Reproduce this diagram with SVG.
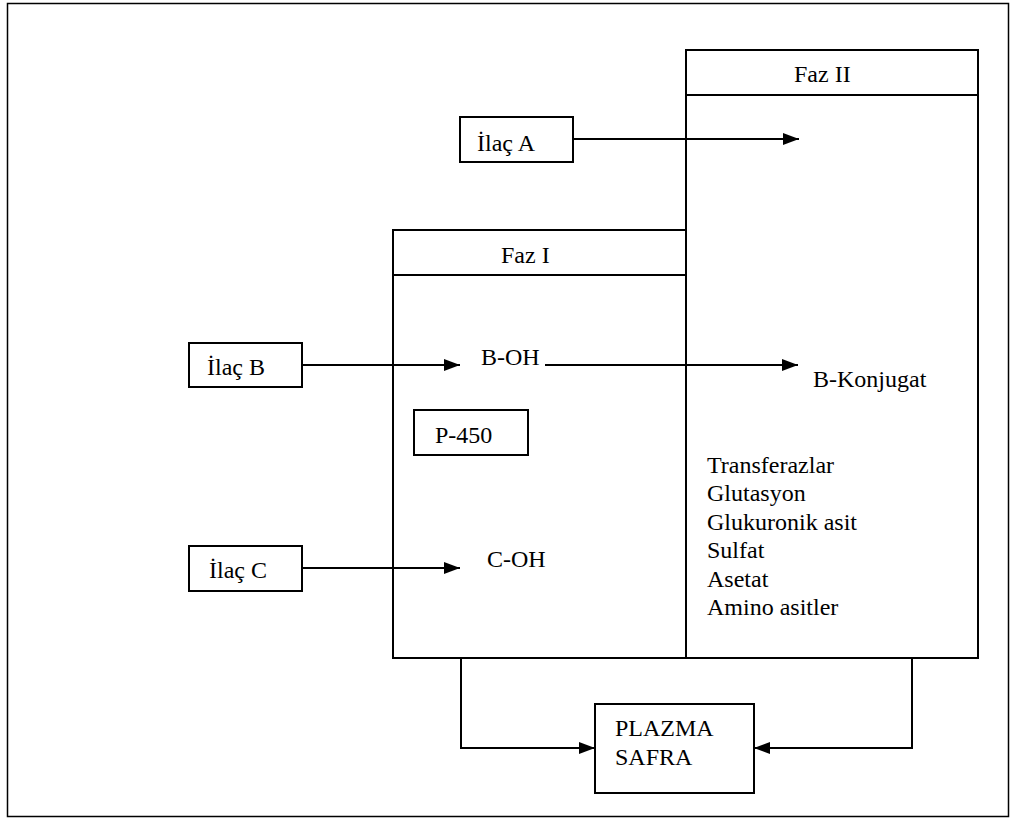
<svg xmlns="http://www.w3.org/2000/svg" width="1017" height="818" viewBox="0 0 1017 818">
<style>
.b{fill:none;stroke:#000;stroke-width:2}
.t{font-family:'Liberation Serif','DejaVu Serif',serif;font-size:24px;fill:#000}
.c{fill:none;stroke:#000;stroke-width:2}
</style>
<defs>
<marker id="ah" viewBox="0 0 16 12" refX="16" refY="6" markerWidth="16" markerHeight="12" markerUnits="userSpaceOnUse" orient="auto">
<path d="M0,0 L16,6 L0,12 Z" fill="#000"/>
</marker>
</defs>
<rect x="0" y="0" width="1017" height="818" fill="#fff"/>
<rect x="7.5" y="3.5" width="1001" height="813" fill="none" stroke="#000" stroke-width="1.5"/>
<g id="faz2">
<rect class="b" x="686" y="50" width="292" height="608"/>
<line class="b" x1="686" y1="95" x2="978" y2="95"/>
<text class="t" x="794" y="82">Faz II</text>
<text class="t" x="813" y="387">B-Konjugat</text>
<text class="t" x="707" y="473">Transferazlar</text>
<text class="t" x="707" y="501">Glutasyon</text>
<text class="t" x="707" y="530">Glukuronik asit</text>
<text class="t" x="707" y="558">Sulfat</text>
<text class="t" x="707" y="587">Asetat</text>
<text class="t" x="707" y="615">Amino asitler</text>
</g>
<g id="faz1">
<rect class="b" x="393" y="230" width="293" height="428"/>
<line class="b" x1="393" y1="275" x2="686" y2="275"/>
<text class="t" x="501" y="263">Faz I</text>
<text class="t" x="481" y="365">B-OH</text>
<text class="t" x="487" y="567">C-OH</text>
</g>
<g id="p450">
<rect class="b" x="414" y="410" width="114" height="45"/>
<text class="t" x="435" y="443">P-450</text>
</g>
<g id="ilacA">
<rect class="b" x="460" y="117" width="113" height="45"/>
<text class="t" x="477" y="151">İlaç A</text>
</g>
<g id="ilacB">
<rect class="b" x="189" y="343" width="113" height="44"/>
<text class="t" x="207" y="375">İlaç B</text>
</g>
<g id="ilacC">
<rect class="b" x="189" y="546" width="113" height="45"/>
<text class="t" x="209" y="578">İlaç C</text>
</g>
<g id="plazma">
<rect class="b" x="595" y="704" width="159" height="89"/>
<text class="t" x="615" y="736">PLAZMA</text>
<text class="t" x="615" y="765">SAFRA</text>
</g>
<g id="connectors">
<line class="c" x1="573" y1="139" x2="799" y2="139" marker-end="url(#ah)"/>
<line class="c" x1="302" y1="365" x2="460" y2="365" marker-end="url(#ah)"/>
<line class="c" x1="545" y1="365" x2="798" y2="365" marker-end="url(#ah)"/>
<line class="c" x1="302" y1="568" x2="460" y2="568" marker-end="url(#ah)"/>
<polyline class="c" points="461,658 461,748 595,748" marker-end="url(#ah)"/>
<polyline class="c" points="912,658 912,748 754,748" marker-end="url(#ah)"/>
</g>
</svg>
